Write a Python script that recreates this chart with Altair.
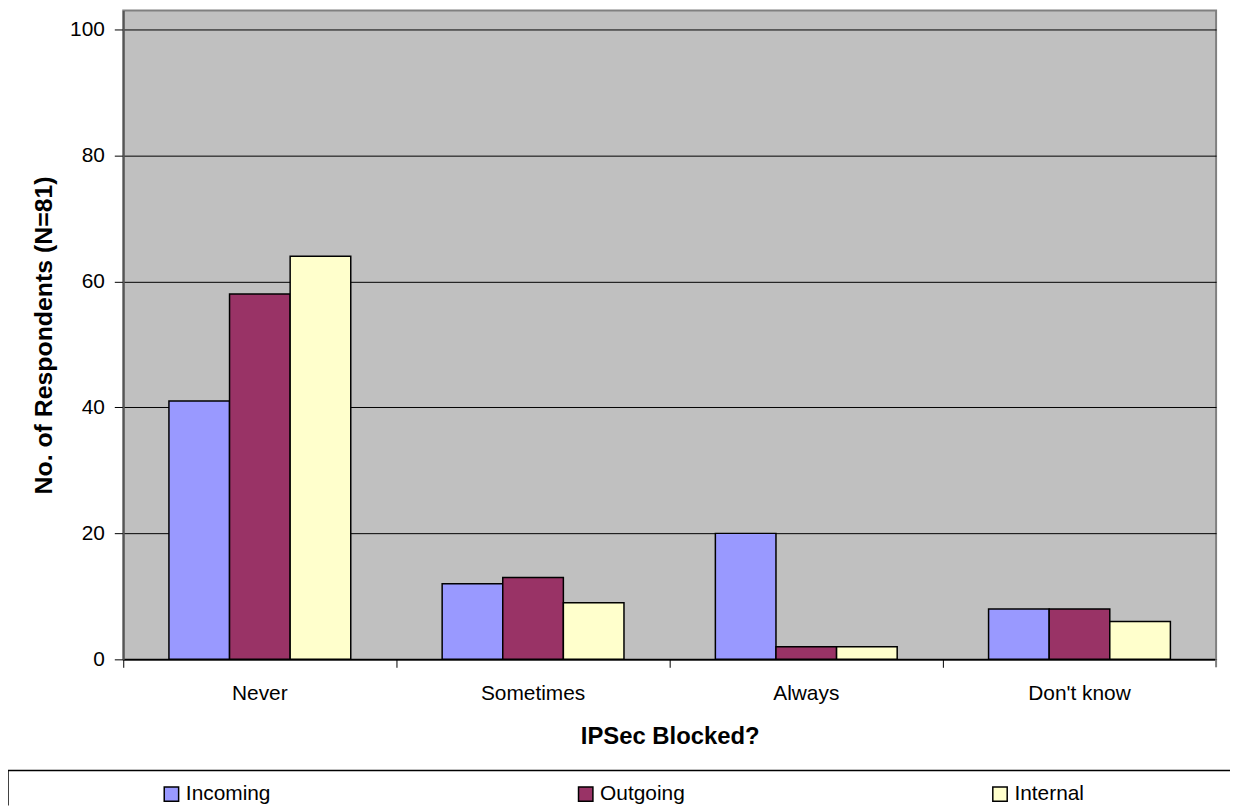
import altair as alt
import pandas as pd

categories = ["Never", "Sometimes", "Always", "Don't know"]
series = ["Incoming", "Outgoing", "Internal"]
incoming = [41, 12, 20, 8]
outgoing = [58, 13, 2, 8]
internal = [64, 9, 2, 6]
colors = ["#9999FF", "#993366", "#FFFFCC"]
y_ticks = [0, 20, 40, 60, 80, 100]

rows = []
for i, c in enumerate(categories):
    for s, vals in zip(series, [incoming, outgoing, internal]):
        rows.append({"category": c, "series": s, "value": vals[i]})
df = pd.DataFrame(rows)

W, H = 1100, 653
FONT = "Liberation Sans"
PAD_INNER = 0.3345
STEP = W / len(categories)
BOUNDARY_OFFSET = -(STEP * PAD_INNER) / 2

x_scale = alt.Scale(domain=categories, paddingInner=PAD_INNER, paddingOuter=PAD_INNER / 2)

bars = alt.Chart(df).mark_bar(stroke="black", strokeWidth=1.5).encode(
    x=alt.X(
        "category:N", sort=categories, scale=x_scale,
        axis=alt.Axis(orient="bottom", title="IPSec Blocked?", labelAngle=0,
                      ticks=False, tickSize=0, labelPadding=23, titlePadding=22,
                      domainColor="black", domainWidth=1.5,
                      labelFontSize=21, labelColor="black", labelFont=FONT,
                      titleFontSize=24, titleFont=FONT, titleFontWeight="bold",
                      titleColor="black"),
    ),
    xOffset=alt.XOffset("series:N", sort=series,
                        scale=alt.Scale(domain=series, paddingInner=0, paddingOuter=0)),
    y=alt.Y(
        "value:Q", scale=alt.Scale(domain=[0, 103], nice=False, zero=True),
        axis=alt.Axis(values=y_ticks, title="No. of Respondents (N=81)",
                      grid=True, gridColor="black", gridWidth=1, gridOpacity=1,
                      domainColor="#555555", domainWidth=2,
                      tickColor="black", tickSize=9, labelPadding=10,
                      labelFontSize=21, labelColor="black", labelFont=FONT,
                      titleFontSize=25, titleFont=FONT, titleFontWeight="bold",
                      titleColor="black", titlePadding=13),
    ),
    color=alt.Color(
        "series:N", sort=series,
        scale=alt.Scale(domain=series, range=colors),
        legend=alt.Legend(
            orient="none", legendX=38, legendY=778, direction="horizontal",
            columns=3, title=None, symbolType="square", symbolSize=210,
            symbolStrokeColor="black", symbolStrokeWidth=1.5, symbolOpacity=1,
            labelFontSize=21, labelFont=FONT, labelColor="black",
            labelOffset=4, columnPadding=306, gridAlign="all", padding=0,
        ),
    ),
)

ticks_layer = alt.Chart(df).mark_point(opacity=0).encode(
    x=alt.X(
        "category:N", sort=categories, scale=x_scale,
        axis=alt.Axis(orient="bottom", bandPosition=0, tickOffset=BOUNDARY_OFFSET,
                      labels=False, title=None, domain=False, ticks=True,
                      tickSize=8, tickColor="black", tickWidth=1),
    ),
)

end_tick = alt.Chart(pd.DataFrame({"k": [0]})).mark_rule(color="#808080", strokeWidth=2).encode(
    x=alt.value(W), y=alt.value(H), y2=alt.value(H + 8)
)
frame_top = alt.Chart(pd.DataFrame({"k": [0]})).mark_rule(color="black", strokeWidth=1.5).encode(
    x=alt.value(-116), x2=alt.value(1114), y=alt.value(765)
)
frame_left = alt.Chart(pd.DataFrame({"k": [0]})).mark_rule(color="black", strokeWidth=1.5).encode(
    x=alt.value(-116), y=alt.value(765), y2=alt.value(800)
)

chart = (
    alt.layer(bars, ticks_layer, end_tick, frame_top, frame_left)
    .resolve_axis(x="independent")
    .properties(
        width=W, height=H,
        autosize=alt.AutoSizeParams(type="none"),
        padding={"left": 116, "top": 0, "right": 14, "bottom": 145},
        background="white",
    )
    .configure(font=FONT)
    .configure_view(fill="#C0C0C0", stroke="#808080", strokeWidth=2)
)

chart.save("out.html", embed_options={"renderer": "svg", "actions": False})
